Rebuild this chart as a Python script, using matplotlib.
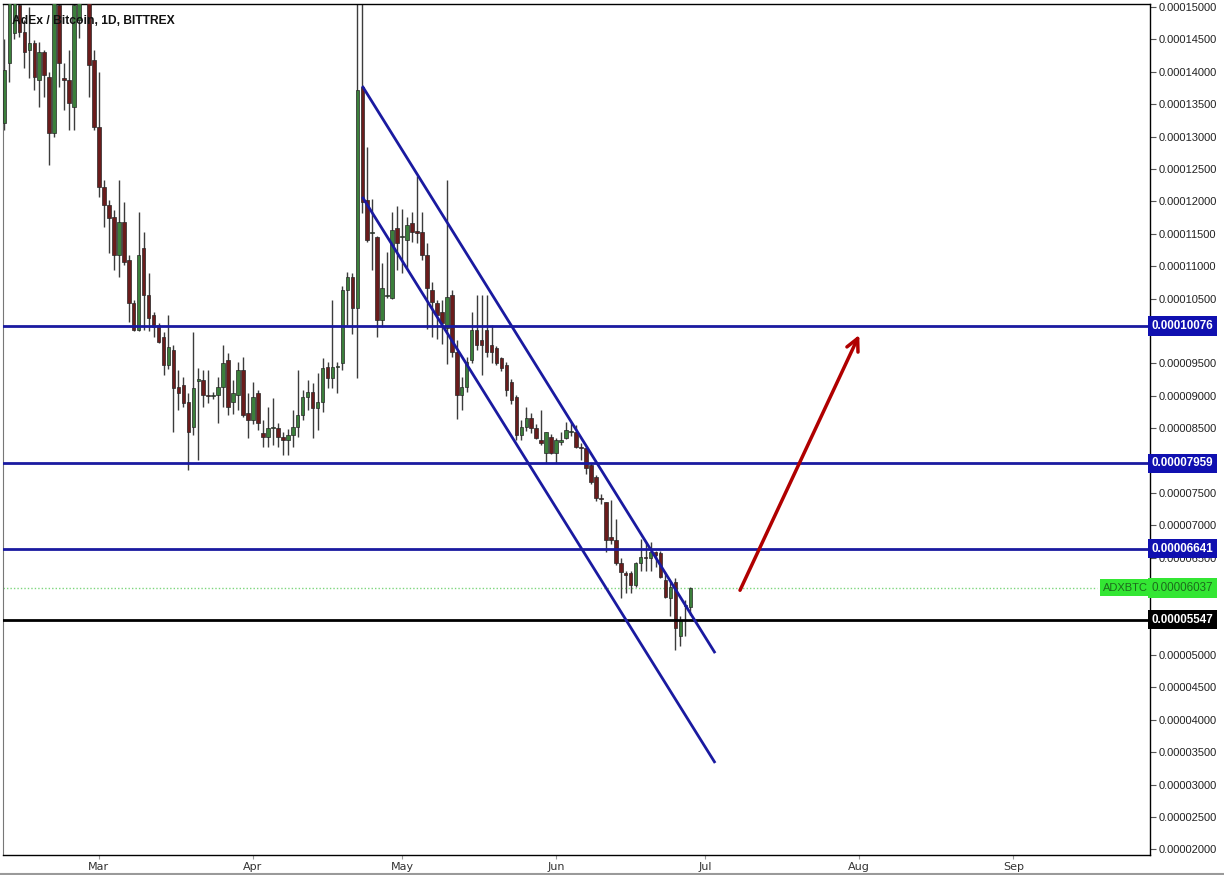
import datetime as dt

import matplotlib
matplotlib.use("Agg")
import matplotlib.dates as mdates
import matplotlib.pyplot as plt
import matplotlib.transforms as mtransforms

# daily candles in satoshi (1e-8 BTC), starting 2018-02-10
start_date = dt.date(2018, 2, 10)

opens = [
    13210, 14136, 14600, 15030, 14615, 14337, 14445, 13874, 14305, 13920,
    13055, 15030, 13900, 13874, 13457, 14800, 15600, 15300, 14182,
    13150, 12225, 11945, 11760, 11173, 11680, 11096, 10430, 10015, 11280,
    10560, 10250, 10090, 9907, 9476, 9707, 9140, 9170, 8905, 8520,
    9230, 9244, 9010, 9000, 9010, 9140, 9550, 8900, 9010, 9400, 8740,
    8630, 9044, 8430, 8365, 8500, 8510, 8365, 8320, 8400, 8520,
    8700, 8980, 9060, 8810, 8905, 9450, 9275, 9440, 9505, 10633,
    10833, 10355, 13770, 12022, 11510, 11450, 10170, 10540, 10510, 11590,
    11450, 11405, 11670, 11540, 11530, 11170, 10630, 10430, 10300, 10050,
    10555, 9680, 9010, 9140, 9550, 10015, 9860, 10015, 9785, 9740,
    9580, 9475, 9215, 8980, 8395, 8520, 8660, 8505, 8320, 8120, 8365,
    8120, 8290, 8350, 8440, 8440, 8210, 8195, 7930, 7750, 7430,
    7360, 6820, 6775, 6420, 6265, 6265, 6080, 6420, 6520, 6500,
    6590, 6575, 6155, 5880, 6130, 5290, 5760, 5740,
]
highs = [
    14500, 15600, 15700, 15300, 14800, 15000, 14490, 14460, 14337, 14000,
    15600, 15500, 14136, 14337, 15400, 15600, 15800, 15600, 14337,
    14000, 12330, 12020, 11870, 12330, 11990, 11170, 10480, 11837, 11527,
    10900, 10300, 10120, 9990, 10250, 9780, 9400, 9290, 9040, 9985,
    9430, 9400, 9400, 9060, 9290, 9785, 9660, 9240, 9520, 9600, 9040,
    9210, 9090, 8630, 8830, 8970, 8580, 8440, 8490, 8780, 9400,
    9090, 9240, 9200, 9350, 9590, 9520, 10480, 9520, 10700, 10910,
    10900, 15600, 15600, 12840, 12040, 11460, 11050, 11220, 11830, 11930,
    11880, 11760, 11840, 12390, 11830, 11360, 10760, 10480, 10480, 12330,
    10630, 9860, 9290, 9600, 10290, 10560, 10560, 10560, 10100, 9770,
    9600, 9520, 9260, 9010, 8630, 8820, 8740, 8560, 8780, 8440, 8410,
    8350, 8440, 8600, 8600, 8550, 8270, 8220, 7960, 7780, 7480,
    7360, 7390, 7100, 6500, 6300, 6300, 6430, 6790, 6740, 6740,
    6600, 6600, 6280, 6130, 6190, 5600, 5850, 6050,
]
lows = [
    13100, 13840, 14500, 14540, 14060, 13905, 13719, 13457, 13610, 12562,
    13000, 13765, 13411, 13102, 13102, 14520, 15050, 13610, 13100,
    12070, 11606, 11204, 10942, 10833, 11020, 10140, 10000, 10000, 10015,
    10000, 9910, 9815, 9320, 9420, 8440, 8780, 8830, 7855, 8395,
    8010, 8830, 8890, 8950, 8580, 8830, 8710, 8720, 8780, 8670, 8350,
    8560, 8470, 8210, 8210, 8240, 8210, 8090, 8090, 8210, 8370,
    8630, 8780, 8350, 8470, 8750, 9120, 9120, 9050, 9400, 10090,
    9960, 9275, 11820, 11380, 10940, 9910, 10060, 10510, 10500, 10940,
    10900, 10970, 11370, 11360, 11100, 10030, 9910, 9880, 9800, 9490,
    9600, 8640, 8780, 9060, 9500, 9700, 9320, 9600, 9500, 9470,
    9380, 9000, 8870, 8320, 8320, 8450, 8420, 8330, 8240, 7960, 8100,
    7960, 8240, 8330, 8380, 8190, 8010, 7800, 7640, 7380, 7330,
    6590, 6720, 6390, 5880, 5950, 5950, 6050, 6300, 6300, 6300,
    6360, 6190, 5880, 5600, 5080, 5140, 5290, 5620,
]
closes = [
    14030, 15300, 15400, 14615, 14305, 14445, 13920, 14305, 13950, 13055,
    15150, 14136, 13880, 13520, 15030, 15300, 15200, 14105, 13150,
    12225, 11945, 11745, 11173, 11680, 11065, 10430, 10015, 11173, 10560,
    10200, 10060, 9830, 9476, 9753, 9120, 9050, 8890, 8440, 9120,
    9260, 9010, 9000, 9010, 9140, 9510, 8830, 9050, 9400, 8705, 8630,
    8980, 8580, 8365, 8500, 8520, 8365, 8320, 8400, 8520, 8700,
    8980, 9060, 8810, 8905, 9430, 9275, 9450, 9460, 10633, 10833,
    10355, 13720, 11990, 11405, 11530, 10170, 10665, 10560, 11560, 11360,
    11470, 11640, 11530, 11520, 11170, 10660, 10450, 10250, 10120, 10525,
    9680, 9010, 9140, 9525, 10015, 9785, 9785, 9680, 9680, 9510,
    9430, 9090, 8935, 8395, 8520, 8660, 8505, 8350, 8275, 8440, 8120,
    8320, 8320, 8470, 8450, 8210, 8195, 7890, 7670, 7420, 7410,
    6770, 6775, 6420, 6280, 6235, 6080, 6420, 6510, 6500, 6590,
    6545, 6200, 5895, 6050, 5420, 5540, 5780, 6037,
]

# horizontal levels (satoshi)
blue_levels = [10076, 7959, 6641]
black_level = 5547
last_price = 6037

# channel lines: (date, price) end points
upper_channel = [(dt.date(2018, 4, 23), 13780), (dt.date(2018, 7, 3), 5030)]
lower_channel = [(dt.date(2018, 4, 23), 12070), (dt.date(2018, 7, 3), 3335)]

# projected move arrow
arrow_start = (dt.date(2018, 7, 8), 6000)
arrow_end = (dt.date(2018, 8, 1), 9940)

month_ticks = [dt.date(2018, m, 1) for m in range(3, 10)]
month_labels = ["Mar", "Apr", "May", "Jun", "Jul", "Aug", "Sep"]

# scale ticks hidden under the price labels
covered_ticks = [8000, 6000, 5500]

SAT = 1e-8
UP = "#3b7f3b"
DOWN = "#6a1c1c"
LEVEL_BLUE = "#1a1aa0"

fig = plt.figure(figsize=(12.24, 8.75), dpi=100)
ax = fig.add_axes([3 / 1224, 20 / 875, 1147 / 1224, 851 / 875])

base = mdates.date2num(start_date)
xs = [base + i for i in range(len(opens))]

# wicks
ax.vlines(xs, [l * SAT for l in lows], [h * SAT for h in highs],
          color="#3c3c3c", linewidth=1.0, zorder=2)
# bodies
for x, o, c in zip(xs, opens, closes):
    lo, hi = min(o, c), max(o, c)
    height = max(hi - lo, 12)
    ax.bar(x, height * SAT, bottom=lo * SAT, width=0.72,
           color=UP if c >= o else DOWN, edgecolor="#262626",
           linewidth=0.5, zorder=3)

# levels
for lvl in blue_levels:
    ax.axhline(lvl * SAT, color=LEVEL_BLUE, linewidth=2, zorder=4)
ax.axhline(black_level * SAT, color="black", linewidth=2, zorder=4)
ax.axhline(last_price * SAT, xmax=1094 / 1147, color="#7cd67c",
           linewidth=1, linestyle=(0, (1, 1.5)), zorder=1)

# channel
for line in (upper_channel, lower_channel):
    ax.plot([mdates.date2num(d) for d, _ in line], [p * SAT for _, p in line],
            color=LEVEL_BLUE, linewidth=2, zorder=5, solid_capstyle="butt")

ax.annotate("", xy=(mdates.date2num(arrow_end[0]), arrow_end[1] * SAT),
            xytext=(mdates.date2num(arrow_start[0]), arrow_start[1] * SAT),
            arrowprops=dict(arrowstyle="->", color="#b00000", lw=2.5,
                            mutation_scale=22, shrinkA=0, shrinkB=0),
            zorder=6)

# axes
ax.set_xlim(mdates.date2num(dt.date(2018, 3, 1)) - 19.3,
            mdates.date2num(dt.date(2018, 3, 1)) + 211.5)
ax.set_ylim(1915 * SAT, 15046 * SAT)

ax.set_xticks([mdates.date2num(d) for d in month_ticks])
ax.set_xticklabels(month_labels, fontsize=8,
                   family=["Liberation Sans Narrow", "DejaVu Sans"],
                   color="#333333")
ax.tick_params(axis="x", length=3, color="#999999", pad=2)

yticks = [v * 500 for v in range(4, 31)]
ax.yaxis.tick_right()
ax.set_yticks([v * SAT for v in yticks])
ax.set_yticklabels(["" if v in covered_ticks else "{:.8f}".format(v * SAT)
                    for v in yticks], fontsize=8,
                   family=["Liberation Sans", "DejaVu Sans"], color="#222222")
ax.tick_params(axis="y", length=4, color="#555555", pad=2)

for side in ("top", "bottom", "right"):
    ax.spines[side].set_color("black")
    ax.spines[side].set_linewidth(1)
ax.spines["left"].set_color("#777777")

# price labels on the scale
trans = mtransforms.blended_transform_factory(ax.transAxes, ax.transData)
label_font = ["Liberation Sans", "DejaVu Sans"]
box = dict(boxstyle="square,pad=0.32", ec="none")
for lvl in blue_levels:
    ax.text(1.0012, lvl * SAT, "{:.8f}".format(lvl * SAT), transform=trans,
            ha="left", va="center", fontsize=8.4, fontweight="bold",
            family=label_font, color="white", zorder=10, clip_on=False,
            bbox=dict(box, fc="#1010b0"))
ax.text(1.0012, black_level * SAT, "{:.8f}".format(black_level * SAT),
        transform=trans, ha="left", va="center", fontsize=8.4,
        fontweight="bold", family=label_font, color="white", zorder=10,
        clip_on=False, bbox=dict(box, fc="black"))
ax.text(1.0012, last_price * SAT, "{:.8f}".format(last_price * SAT),
        transform=trans, ha="left", va="center", fontsize=8.4,
        family=label_font, color="#1d6b1d", zorder=10, clip_on=False,
        bbox=dict(box, fc="#33e633"))
ax.text(0.9985, last_price * SAT, "ADXBTC", transform=trans, ha="right",
        va="center", fontsize=8, family=label_font, color="#1d6b1d",
        zorder=10, bbox=dict(box, fc="#33e633"))

ax.text(0.008, 0.987, "AdEx / Bitcoin, 1D, BITTREX", transform=ax.transAxes,
        ha="left", va="top", fontsize=8.7, fontweight="bold",
        family=["Liberation Sans", "DejaVu Sans"], color="#111111", zorder=9)

# thin grey strip along the bottom edge of the picture
fig.add_artist(plt.Line2D([0, 1], [1 / 875, 1 / 875], color="#9a9a9a",
                          linewidth=1.5, transform=fig.transFigure))

fig.savefig("out.png", dpi=100, facecolor="white")
